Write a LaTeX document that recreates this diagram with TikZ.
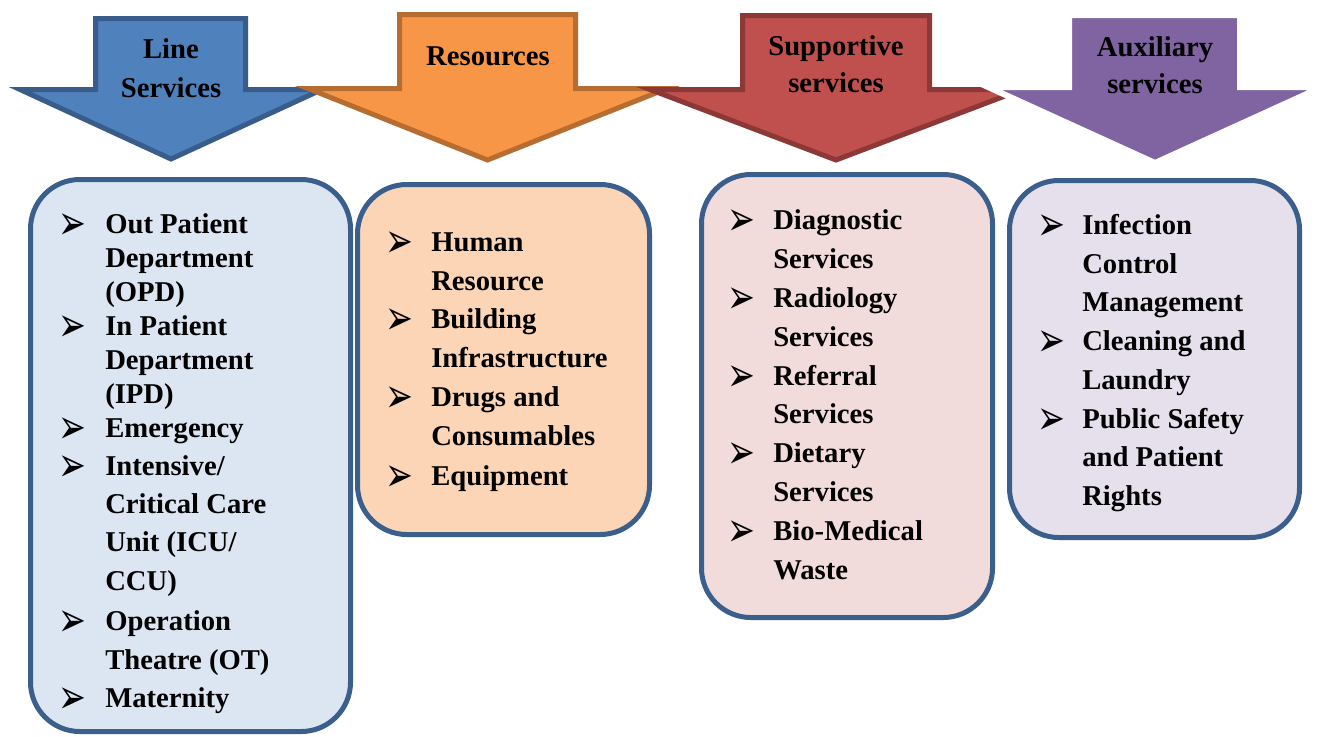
\documentclass[tikz,border=0pt]{standalone}
\usepackage{fontspec}
\setmainfont{Liberation Serif}
\newfontfamily\dejavu{DejaVu Sans}
\usetikzlibrary{shadows}
\definecolor{bluefill}{HTML}{4F81BD}
\definecolor{blueline}{HTML}{385D8A}
\definecolor{orangefill}{HTML}{F79646}
\definecolor{orangeline}{HTML}{B66D31}
\definecolor{redfill}{HTML}{C0504D}
\definecolor{redline}{HTML}{8C3836}
\definecolor{purplefill}{HTML}{8064A2}
\definecolor{boxline}{HTML}{3B5F8D}
\definecolor{boxblue}{HTML}{DCE6F2}
\definecolor{boxorange}{HTML}{FBD5B5}
\definecolor{boxred}{HTML}{F2DCDB}
\definecolor{boxpurple}{HTML}{E5E0EC}
\newcommand\arrbul{\scalebox{1}[1.45]{➢}}
\begin{document}
\begin{tikzpicture}[x=0.75pt,y=-0.75pt,
  txt/.style={anchor=base west, inner sep=0pt, font=\fontsize{21.5}{26}\selectfont\bfseries},
  hd/.style={anchor=base, inner sep=0pt, font=\fontsize{21.5}{26}\selectfont\bfseries},
  bul/.style={anchor=base west, inner sep=0pt, yshift=-4.5pt, text height=12pt, text depth=0pt,
    font=\dejavu\fontsize{25}{25}\selectfont},
  arr/.style={line width=3.75pt, line join=miter},
  box/.style={line width=3.75pt, draw=boxline, rounded corners=37pt}]
\useasboundingbox[fill=white] (0,0) rectangle (1333,736);

% ---------- arrows ----------
\filldraw[arr, fill=bluefill, draw=blueline]
  (95.5,18.5) -- (245.5,18.5) -- (245.5,89.5) -- (322,89.5) -- (171,159)
  -- (20,89.5) -- (95.5,89.5) -- cycle;
\node[hd] (a1a) at (171,58) {Line};
\node[hd] (a1b) at (171,97) {Services};

\filldraw[arr, fill=orangefill, draw=orangeline]
  (399.5,14.5) -- (575.5,14.5) -- (575.5,88.5) -- (667,88.5) -- (487.5,160)
  -- (308,88.5) -- (399.5,88.5) -- cycle;
\node[hd] (a2a) at (488,65) {Resources};

\filldraw[arr, fill=redfill, draw=redline]
  (742.5,15.5) -- (929.5,15.5) -- (929.5,89.5) -- (1022,89.5) -- (836,160)
  -- (650,89.5) -- (742.5,89.5) -- cycle;
\node[hd] (a3a) at (836,55) {Supportive};
\node[hd] (a3b) at (836,92) {services};

\filldraw[line width=4.5pt, line join=miter, fill=purplefill, draw=white,
  drop shadow={shadow xshift=1pt, shadow yshift=-1.5pt, fill=black, opacity=0.2}]
  (1069,15) -- (1240,15) -- (1240,87) -- (1322,87) -- (1155,163)
  -- (988,87) -- (1069,87) -- cycle;
\node[hd] (a4a) at (1155,56) {Auxiliary};
\node[hd] (a4b) at (1155,93) {services};

% ---------- boxes ----------
\draw[box, fill=boxblue] (30.5,179.5) rectangle (350.5,731.5);
\draw[box, fill=boxorange] (357.5,184.5) rectangle (649.5,534.5);
\draw[box, fill=boxred] (701.5,174.5) rectangle (992.5,617.5);
\draw[box, fill=boxpurple] (1009.5,180.5) rectangle (1299.5,537.5);

% ---------- box 1 ----------
\node[bul] (b1p1) at (58,233) {\arrbul};
\node[txt] (b1t1) at (105,233) {Out Patient};
\node[txt] (b1t2) at (105,267) {Department};
\node[txt] (b1t3) at (105,301) {(OPD)};
\node[bul] (b1p2) at (58,335) {\arrbul};
\node[txt] (b1t4) at (105,335) {In Patient};
\node[txt] (b1t5) at (105,369) {Department};
\node[txt] (b1t6) at (105,403) {(IPD)};
\node[bul] (b1p3) at (58,437) {\arrbul};
\node[txt] (b1t7) at (105,437) {Emergency};
\node[bul] (b1p4) at (58,475) {\arrbul};
\node[txt] (b1t8) at (105,475) {Intensive/};
\node[txt] (b1t9) at (105,513) {Critical Care};
\node[txt] (b1t10) at (105,551) {Unit (ICU/};
\node[txt] (b1t11) at (105,590) {CCU)};
\node[bul] (b1p5) at (58,630) {\arrbul};
\node[txt] (b1t12) at (105,630) {Operation};
\node[txt] (b1t13) at (105,669) {Theatre (OT)};
\node[bul] (b1p6) at (58,707) {\arrbul};
\node[txt] (b1t14) at (105,707) {Maternity};

% ---------- box 2 ----------
\node[bul] (b2p1) at (385,251) {\arrbul};
\node[txt] (b2t1) at (431,251) {Human};
\node[txt] (b2t2) at (431,290) {Resource};
\node[bul] (b2p2) at (385,328) {\arrbul};
\node[txt] (b2t3) at (431,328) {Building};
\node[txt] (b2t4) at (431,367) {Infrastructure};
\node[bul] (b2p3) at (385,406) {\arrbul};
\node[txt] (b2t5) at (431,406) {Drugs and};
\node[txt] (b2t6) at (431,445) {Consumables};
\node[bul] (b2p4) at (385,485) {\arrbul};
\node[txt] (b2t7) at (431,485) {Equipment};

% ---------- box 3 ----------
\node[bul] (b3p1) at (727,229) {\arrbul};
\node[txt] (b3t1) at (773,229) {Diagnostic};
\node[txt] (b3t2) at (773,268) {Services};
\node[bul] (b3p2) at (727,307) {\arrbul};
\node[txt] (b3t3) at (773,307) {Radiology};
\node[txt] (b3t4) at (773,346) {Services};
\node[bul] (b3p3) at (727,385) {\arrbul};
\node[txt] (b3t5) at (773,385) {Referral};
\node[txt] (b3t6) at (773,423) {Services};
\node[bul] (b3p4) at (727,462) {\arrbul};
\node[txt] (b3t7) at (773,462) {Dietary};
\node[txt] (b3t8) at (773,501) {Services};
\node[bul] (b3p5) at (727,540) {\arrbul};
\node[txt] (b3t9) at (773,540) {Bio-Medical};
\node[txt] (b3t10) at (773,579) {Waste};

% ---------- box 4 ----------
\node[bul] (b4p1) at (1037,234) {\arrbul};
\node[txt] (b4t1) at (1082,234) {Infection};
\node[txt] (b4t2) at (1082,273) {Control};
\node[txt] (b4t3) at (1082,311) {Management};
\node[bul] (b4p2) at (1037,350) {\arrbul};
\node[txt] (b4t4) at (1082,350) {Cleaning and};
\node[txt] (b4t5) at (1082,389) {Laundry};
\node[bul] (b4p3) at (1037,428) {\arrbul};
\node[txt] (b4t6) at (1082,428) {Public Safety};
\node[txt] (b4t7) at (1082,466) {and Patient};
\node[txt] (b4t8) at (1082,505) {Rights};
\end{tikzpicture}
\end{document}
